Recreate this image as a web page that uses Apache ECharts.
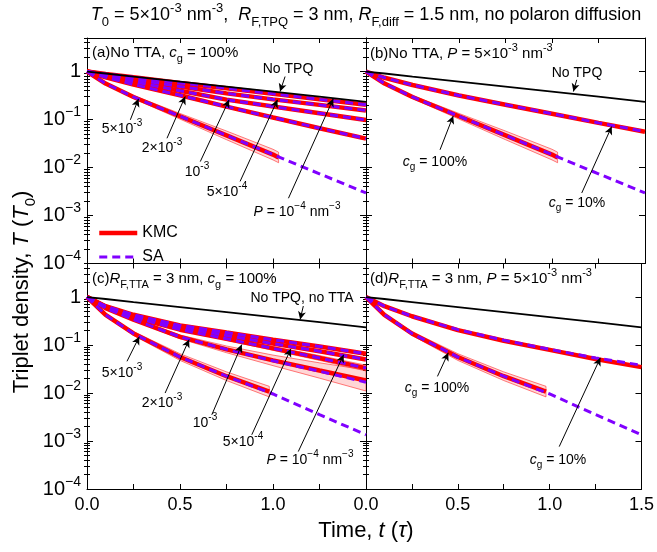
<!DOCTYPE html>
<html><head><meta charset="utf-8">
<script src="https://cdn.jsdelivr.net/npm/echarts@6/dist/echarts.min.js"></script>
<style>html,body{margin:0;padding:0;background:#fff}#c{width:657px;height:552px}</style>
</head><body><div id="c"></div>
<script>
const FONT = 'Liberation Sans, Arial, Helvetica, sans-serif';

// ---------- axes / ticks ----------
const xTicks = [0, 0.25, 0.5, 0.75, 1.0, 1.25, 1.5];
const xLabelsLeft = [0, 0.5, 1.0];
const xLabelsRight = [0, 0.5, 1.0, 1.5];
const yTicksMajor = [1e-4, 1e-3, 1e-2, 1e-1, 1];
const yTicksMinor = [];
for (let e = -4; e <= 0; e++) for (let m = 2; m <= 9; m++) {
  const v = Number((m * Math.pow(10, e)).toPrecision(3));
  if (v <= 5) yTicksMinor.push(v);
}

// ---------- data ----------
const tGrid = [0, 0.1, 0.25, 0.5, 0.75, 1.0, 1.25, 1.5];
const noTPQ = [1, 0.91, 0.785, 0.617, 0.484, 0.380, 0.299, 0.234];

// (a) No TTA, cg = 100%
const a_P1e4 = [1, 0.89, 0.76, 0.58, 0.447, 0.343, 0.263, 0.204];
const a_P5e4 = [1, 0.85, 0.69, 0.49, 0.351, 0.263, 0.202, 0.155];
const a_P1e3 = [1, 0.81, 0.617, 0.398, 0.26, 0.186, 0.135, 0.098];
const a_P2e3 = [1, 0.76, 0.537, 0.32, 0.186, 0.11, 0.066, 0.040];
const a_P5e3_SA = [1, 0.562, 0.295, 0.117, 0.0468, 0.0186, 0.0074, 0.00295];
const tK_a = [0, 0.1, 0.25, 0.5, 0.75, 1.0, 1.03];
const a_P5e3_KMC = [1, 0.562, 0.295, 0.117, 0.0468, 0.0186, 0.0162];
const a_P5e3_lo = [1, 0.549, 0.275, 0.102, 0.038, 0.0144, 0.0126];
const a_P5e3_hi = [1, 0.575, 0.316, 0.134, 0.0576, 0.024, 0.0209];

// (b) No TTA, P = 5e-3
const b_cg10_KMC = [1, 0.741, 0.525, 0.316, 0.204, 0.132, 0.0851, 0.0555];
const b_cg10_SA = [1, 0.741, 0.525, 0.316, 0.204, 0.132, 0.0851, 0.0562];

// (c) RF,TTA = 3 nm, cg = 100%
const c_P1e4 = [1, 0.646, 0.427, 0.257, 0.182, 0.129, 0.0933, 0.0661];
const c_P5e4 = [1, 0.631, 0.407, 0.234, 0.158, 0.107, 0.0741, 0.0501];
const c_P1e3 = [1, 0.617, 0.380, 0.209, 0.135, 0.0851, 0.0537, 0.0331];
const c_P1e3_lo = [1, 0.603, 0.367, 0.2, 0.126, 0.0776, 0.0478, 0.0288];
const c_P1e3_hi = [1, 0.631, 0.393, 0.219, 0.145, 0.0933, 0.0603, 0.038];
const c_P2e3_KMC = [1, 0.589, 0.339, 0.148, 0.0813, 0.0479, 0.0295, 0.0182];
const c_P2e3_SA = [1, 0.589, 0.339, 0.148, 0.0813, 0.0470, 0.0285, 0.0168];
const c_P2e3_lo = [1, 0.575, 0.324, 0.135, 0.0692, 0.0372, 0.0204, 0.011];
const c_P2e3_hi = [1, 0.603, 0.355, 0.162, 0.0955, 0.0617, 0.0426, 0.0302];
const c_P5e3_SA = [1, 0.427, 0.174, 0.0562, 0.0224, 0.00955, 0.00355, 0.00135];
const tK_c = [0, 0.1, 0.25, 0.5, 0.75, 0.98];
const c_P5e3_KMC = [1, 0.427, 0.174, 0.0562, 0.0224, 0.0107];
const c_P5e3_lo = [1, 0.408, 0.159, 0.0478, 0.0182, 0.0083];
const c_P5e3_hi = [1, 0.447, 0.191, 0.066, 0.0276, 0.0138];

// (d) RF,TTA = 3 nm, P = 5e-3
const d_cg10_KMC = [1, 0.646, 0.398, 0.204, 0.123, 0.0794, 0.0513, 0.0347];
const d_cg10_SA = [1, 0.646, 0.398, 0.209, 0.126, 0.0813, 0.0537, 0.038];

// ---------- layout ----------
const GL = 87, GM = 366, GR = 645, GT = 38, GH = 225.5;
const grids = [
  {left: GL, top: GT, width: GM - GL, height: GH},
  {left: GM, top: GT, width: GR - GM, height: GH},
  {left: GL, top: GT + GH, width: GM - GL, height: GH},
  {left: GM, top: GT + GH, width: GR - GM, height: GH}
];

const blk = '#000';
const xAxes = [], yAxes = [];
grids.forEach((g, i) => {
  const bottomRow = i >= 2;
  const base = {type: 'value', gridIndex: i, min: 0, max: 1.5, splitLine: {show: false},
    axisLine: {show: true, onZero: false, lineStyle: {color: blk, width: 1}},
    axisTick: {show: true, inside: true, length: 5, customValues: xTicks, lineStyle: {color: blk}}};
  xAxes.push(Object.assign({}, base, {position: 'bottom',
    axisLabel: {show: bottomRow, customValues: (i % 2 === 0) ? xLabelsLeft : xLabelsRight,
      formatter: v => Number(v).toFixed(1), fontSize: 18, color: blk, fontFamily: FONT, margin: 7}}));
  xAxes.push(Object.assign({}, base, {position: 'top', axisLabel: {show: false}}));
  const ybase = {type: 'log', logBase: 10, gridIndex: i, min: 1e-4, max: 5, splitLine: {show: false}};
  const yfmt = v => {
    const e = Math.round(Math.log10(v));
    if (e === 0) return '{b|1}';
    return '{b|10}{s|\u2212' + (-e) + '}';
  };
  yAxes.push(Object.assign({}, ybase, {position: 'left',
    axisLine: {show: true, onZero: false, lineStyle: {color: blk}},
    axisTick: {show: true, inside: true, length: 6, customValues: yTicksMajor, lineStyle: {color: blk}},
    axisLabel: {show: i % 2 === 0, customValues: yTicksMajor, formatter: yfmt, margin: 6,
      rich: {b: {fontSize: 20, fontFamily: FONT, color: blk, lineHeight: 28},
             s: {fontSize: 14, fontFamily: FONT, color: blk, verticalAlign: 'top', lineHeight: 14}}}}));
  yAxes.push(Object.assign({}, ybase, {position: 'left', axisLine: {show: false},
    axisTick: {show: true, inside: true, length: 3, customValues: yTicksMinor, lineStyle: {color: blk}},
    axisLabel: {show: false}}));
  yAxes.push(Object.assign({}, ybase, {position: 'right',
    axisLine: {show: true, onZero: false, lineStyle: {color: blk}},
    axisTick: {show: true, inside: true, length: 6, customValues: yTicksMajor, lineStyle: {color: blk}},
    axisLabel: {show: false}}));
  yAxes.push(Object.assign({}, ybase, {position: 'right', axisLine: {show: false},
    axisTick: {show: true, inside: true, length: 3, customValues: yTicksMinor, lineStyle: {color: blk}},
    axisLabel: {show: false}}));
});

function pairs(ts, vs) { return vs.map((v, i) => [ts[i], v]); }
const series = [];
function band(g, ts, lo, hi) {
  series.push({type: 'custom', xAxisIndex: 2 * g, yAxisIndex: 4 * g, data: [[0, 1]], silent: true, clip: true, z: 1,
    renderItem: (params, api) => {
      const pts = [];
      for (let k = 0; k < ts.length; k++) pts.push(api.coord([ts[k], hi[k]]));
      for (let k = ts.length - 1; k >= 0; k--) pts.push(api.coord([ts[k], lo[k]]));
      return {type: 'polygon', shape: {points: pts},
        style: {fill: 'rgba(255,90,90,0.25)', stroke: 'rgba(255,40,40,0.75)', lineWidth: 0.8}};
    }});
}
function kmc(g, ts, vs) {
  series.push({type: 'line', name: 'KMC', xAxisIndex: 2 * g, yAxisIndex: 4 * g, data: pairs(ts, vs),
    symbol: 'none', z: 3, silent: true, itemStyle: {color: '#ff0000'},
    lineStyle: {color: '#ff0000', width: 4.5}});
}
function sa(g, ts, vs) {
  series.push({type: 'line', name: 'SA', xAxisIndex: 2 * g, yAxisIndex: 4 * g, data: pairs(ts, vs),
    symbol: 'none', z: 4, silent: true, itemStyle: {color: '#8000ff'},
    lineStyle: {color: '#8000ff', width: 3, type: [8, 5]}});
}
function blackLine(g, ts, vs) {
  series.push({type: 'line', name: 'ref', xAxisIndex: 2 * g, yAxisIndex: 4 * g, data: pairs(ts, vs),
    symbol: 'none', z: 5, silent: true, lineStyle: {color: '#000', width: 1.8}});
}
function arrows(g, list) {
  series.push({type: 'line', name: 'arr' + g, xAxisIndex: 2 * g, yAxisIndex: 4 * g, data: [], symbol: 'none',
    silent: true, markLine: {silent: true, symbol: ['none', 'arrow'], symbolSize: [6, 8], animation: false,
      label: {show: false}, lineStyle: {color: '#000', width: 1, type: 'solid'},
      data: list.map(a => [{coord: a[0]}, {coord: a[1]}])}});
}

// (a)
band(0, tK_a, a_P5e3_lo, a_P5e3_hi);
[a_P1e4, a_P5e4, a_P1e3, a_P2e3].forEach(v => kmc(0, tGrid, v));
kmc(0, tK_a, a_P5e3_KMC);
[a_P1e4, a_P5e4, a_P1e3, a_P2e3, a_P5e3_SA].forEach(v => sa(0, tGrid, v));
blackLine(0, tGrid, noTPQ);
arrows(0, [
  [[1.065, 0.787], [1.038, 0.383]],
  [[0.233, 0.0986], [0.277, 0.27]],
  [[0.43, 0.0407], [0.528, 0.302]],
  [[0.609, 0.0133], [0.764, 0.257]],
  [[0.823, 0.00513], [1.024, 0.257]],
  [[1.083, 0.00229], [1.324, 0.27]]
]);
// (b)
band(1, tK_a, a_P5e3_lo, a_P5e3_hi);
kmc(1, tGrid, b_cg10_KMC);
kmc(1, tK_a, a_P5e3_KMC);
sa(1, tGrid, b_cg10_SA);
sa(1, tGrid, a_P5e3_SA);
blackLine(1, tGrid, noTPQ);
arrows(1, [
  [[1.133, 0.672], [1.115, 0.383]],
  [[0.398, 0.0234], [0.469, 0.119]],
  [[1.16, 0.00295], [1.321, 0.0715]]
]);
// (c)
band(2, tGrid, c_P2e3_lo, c_P2e3_hi);
band(2, tGrid, c_P1e3_lo, c_P1e3_hi);
band(2, tK_c, c_P5e3_lo, c_P5e3_hi);
[c_P1e4, c_P5e4, c_P1e3, c_P2e3_KMC].forEach(v => kmc(2, tGrid, v));
kmc(2, tK_c, c_P5e3_KMC);
[c_P1e4, c_P5e4, c_P1e3, c_P2e3_SA, c_P5e3_SA].forEach(v => sa(2, tGrid, v));
blackLine(2, tGrid, noTPQ);
arrows(2, [
  [[1.163, 0.649], [1.146, 0.341]],
  [[0.215, 0.0458], [0.281, 0.149]],
  [[0.42, 0.01], [0.549, 0.130]],
  [[0.671, 0.00352], [0.832, 0.102]],
  [[0.886, 0.00135], [1.096, 0.0832]],
  [[1.136, 0.000603], [1.38, 0.0631]]
]);
// (d)
band(3, tK_c, c_P5e3_lo, c_P5e3_hi);
kmc(3, tGrid, d_cg10_KMC);
kmc(3, tK_c, c_P5e3_KMC);
sa(3, tGrid, d_cg10_SA);
sa(3, tGrid, c_P5e3_SA);
blackLine(3, tGrid, noTPQ);
arrows(3, [
  [[0.389, 0.0222], [0.448, 0.0687]],
  [[1.052, 0.000764], [1.276, 0.054]]
]);

// ---------- text ----------
function rich(fs) {
  return {
    n: {fontSize: fs, fontFamily: FONT, fill: blk, lineHeight: Math.round(fs * 1.5)},
    i: {fontSize: fs, fontFamily: FONT, fill: blk, fontStyle: 'italic', lineHeight: Math.round(fs * 1.5)},
    sup: {fontSize: Math.round(fs * 0.7), fontFamily: FONT, fill: blk, verticalAlign: 'top', lineHeight: Math.round(fs * 0.8)},
    sub: {fontSize: Math.round(fs * 0.7), fontFamily: FONT, fill: blk, verticalAlign: 'bottom', lineHeight: Math.round(fs * 0.8)}
  };
}
function txt(x, y, text, fs, align, rot) {
  return {type: 'text', x: x, y: y, rotation: rot || 0, silent: true, z: 100,
    style: {text: text, rich: rich(fs), align: align || 'center', verticalAlign: 'middle', fill: blk,
      fontSize: fs, fontFamily: FONT}};
}
const P4 = '{i|P}{n| = 10}{sup|\u22124}{n| nm}{sup|\u22123}';
const graphics = [
  txt(366, 15, '{i|T}{sub|0}{n| = 5×10}{sup|-3}{n| nm}{sup|-3}{n|,  }{i|R}{sub|F,TPQ}{n| = 3 nm, }{i|R}{sub|F,diff}{n| = 1.5 nm, no polaron diffusion}', 18),
  txt(92, 53, '{n|(a)No TTA, }{i|c}{sub|g}{n| = 100%}', 15, 'left'),
  txt(370, 54, '{n|(b)No TTA, }{i|P}{n| = 5×10}{sup|-3}{n| nm}{sup|-3}', 15, 'left'),
  txt(92, 279, '{n|(c)}{i|R}{sub|F,TTA}{n| = 3 nm, }{i|c}{sub|g}{n| = 100%}', 15, 'left'),
  txt(370, 279, '{n|(d)}{i|R}{sub|F,TTA}{n| = 3 nm, }{i|P}{n| = 5×10}{sup|-3}{n| nm}{sup|-3}', 15, 'left'),
  txt(288, 69, '{n|No TPQ}', 14),
  txt(122, 129, '{n|5×10}{sup|-3}', 14),
  txt(162, 148, '{n|2×10}{sup|-3}', 14),
  txt(197, 172, '{n|10}{sup|-3}', 14),
  txt(227, 192, '{n|5×10}{sup|-4}', 14),
  txt(297, 212, P4, 14),
  txt(577, 73, '{n|No TPQ}', 14),
  txt(435, 162, '{i|c}{sub|g}{n| = 100%}', 14),
  txt(577, 203, '{i|c}{sub|g}{n| = 10%}', 14),
  txt(302, 298, '{n|No TPQ, no TTA}', 14),
  txt(122, 373, '{n|5×10}{sup|-3}', 14),
  txt(162, 403, '{n|2×10}{sup|-3}', 14),
  txt(205, 423, '{n|10}{sup|-3}', 14),
  txt(243, 442, '{n|5×10}{sup|-4}', 14),
  txt(310, 460, P4, 14),
  txt(437, 388, '{i|c}{sub|g}{n| = 100%}', 14),
  txt(558, 460, '{i|c}{sub|g}{n| = 10%}', 14),
  txt(366, 531, '{n|Time, }{i|t}{n| (}{i|τ}{n|)}', 22),
  txt(22, 292, '{n|Triplet density, }{i|T}{n| (}{i|T}{sub|0}{n|)}', 22, 'center', Math.PI / 2)
];

const chart = echarts.init(document.getElementById('c'), null, {renderer: 'canvas'});
chart.setOption({
  animation: false,
  backgroundColor: '#fff',
  grid: grids,
  xAxis: xAxes,
  yAxis: yAxes,
  legend: {data: ['KMC', 'SA'], left: 92, top: 220, orient: 'vertical', itemWidth: 38, itemHeight: 12, itemGap: 8,
    selectedMode: false, itemStyle: {opacity: 0, color: 'rgba(0,0,0,0)', borderWidth: 0},
    lineStyle: {width: 'inherit'},
    textStyle: {fontSize: 16, fontFamily: FONT, color: blk}},
  series: series,
  graphic: graphics
});
</script></body></html>
